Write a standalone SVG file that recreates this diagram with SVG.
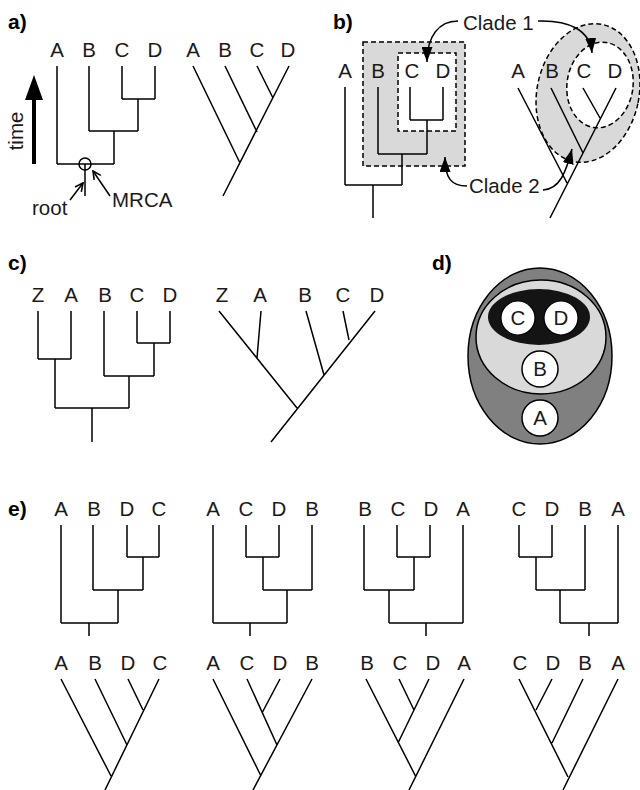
<svg xmlns="http://www.w3.org/2000/svg" width="640" height="790" viewBox="0 0 640 790">
<defs>
<style>
.ln{stroke:#000;stroke-width:1.5;fill:none;stroke-linecap:butt}
.t{font-family:"Liberation Sans",Arial,sans-serif;font-size:20.5px;fill:#1a1a1a;text-anchor:middle}
.ts{font-family:"Liberation Sans",Arial,sans-serif;font-size:20.5px;fill:#1a1a1a}
.pl{font-family:"Liberation Sans",Arial,sans-serif;font-size:21px;font-weight:bold;fill:#000}
.dash{stroke:#000;stroke-width:1.5;stroke-dasharray:5 3}
</style>
<marker id="open" viewBox="0 0 10 10" refX="9" refY="5" markerWidth="10" markerHeight="10" markerUnits="userSpaceOnUse" orient="auto">
<path d="M1,1 L9,5 L1,9" fill="none" stroke="#000" stroke-width="1.6"/>
</marker>
<marker id="fill" viewBox="0 0 15 11" refX="15" refY="5.5" markerWidth="15" markerHeight="11" markerUnits="userSpaceOnUse" orient="auto">
<path d="M0,0 L15,5.5 L0,11 Z" fill="#000"/>
</marker>
</defs>
<rect width="640" height="790" fill="#fff"/>

<!-- panel labels -->
<g id="panel-labels">
<text class="pl" x="8" y="29">a)</text>
<text class="pl" x="333" y="29">b)</text>
<text class="pl" x="8" y="270">c)</text>
<text class="pl" x="432" y="270">d)</text>
<text class="pl" x="8" y="516">e)</text>
</g>

<!-- panel a -->
<g id="a-time">
<line x1="34" y1="98" x2="34" y2="164" stroke="#000" stroke-width="4"/>
<polygon points="34,75 25,100 43,100" fill="#000"/>
<text class="t" transform="translate(23 131) rotate(-90)">time</text>
</g>
<g id="a-tree1">
<text class="t" x="57" y="57">A</text>
<text class="t" x="89" y="57">B</text>
<text class="t" x="122" y="57">C</text>
<text class="t" x="155" y="57">D</text>
<path class="ln" d="M57 66V164M89 66V131M122 66V99M155 66V99M122 99H155M138 99V131M89 131H138M114 131V164M57 164H114M85 164V196"/>
<circle cx="85" cy="164" r="6" class="ln"/>
</g>
<g id="a-annot">
<path class="ln" d="M70 200L83 183" marker-end="url(#open)"/>
<path class="ln" d="M110 196L93 171" marker-end="url(#open)"/>
<text class="ts" x="32" y="215">root</text>
<text class="ts" x="112" y="207">MRCA</text>
</g>
<g id="a-tree2">
<text class="t" x="193" y="57">A</text>
<text class="t" x="225" y="57">B</text>
<text class="t" x="257" y="57">C</text>
<text class="t" x="288" y="57">D</text>
<path class="ln" d="M193 66L240 163M225 66L257 132M257 66L273 98M289 66L223 196"/>
</g>

<!-- panel b -->
<g id="b-clades1">
<rect x="363" y="42" width="102" height="124" fill="#d9d9d9" class="dash"/>
<rect x="398" y="53" width="58" height="78" fill="#fff" class="dash"/>
</g>
<g id="b-tree1">
<text class="t" x="345" y="78">A</text>
<text class="t" x="378" y="78">B</text>
<text class="t" x="412" y="78">C</text>
<text class="t" x="443" y="78">D</text>
<path class="ln" d="M345 87V185M378 87V154M410 87V120M443 87V120M410 120H443M427 120V154M378 154H427M402 154V185M345 185H402M373 185V218"/>
</g>
<g id="b-clades2">
<ellipse cx="588" cy="93" rx="51" ry="70" transform="rotate(12 588 93)" fill="#d9d9d9" class="dash"/>
<ellipse cx="600" cy="85" rx="33" ry="43" transform="rotate(8 600 85)" fill="#fff" class="dash"/>
</g>
<g id="b-tree2">
<text class="t" x="518" y="78">A</text>
<text class="t" x="552" y="78">B</text>
<text class="t" x="584" y="78">C</text>
<text class="t" x="615" y="78">D</text>
<path class="ln" d="M518 88L567 183M551 88L583 153M583 88L600 118M616 88L550 218"/>
</g>
<g id="b-clade1-label">
<text class="ts" x="463" y="30">Clade 1</text>
</g>
<g id="b-clade2-label">
<text class="ts" x="469" y="193">Clade 2</text>
</g>
<g id="b-connectors">
<path class="ln" d="M458 21C439 21 427 36 427 62" marker-end="url(#fill)"/>
<path class="ln" d="M538 21C569 20 590 30 592 53" marker-end="url(#fill)"/>
<path class="ln" d="M467 186C451 186 445 178 445 157" marker-end="url(#fill)"/>
<path class="ln" d="M543 190C560 189 566 172 572 149" marker-end="url(#fill)"/>
</g>

<!-- panel c -->
<g id="c-tree1">
<text class="t" x="38" y="302">Z</text>
<text class="t" x="71" y="302">A</text>
<text class="t" x="105" y="302">B</text>
<text class="t" x="137" y="302">C</text>
<text class="t" x="170" y="302">D</text>
<path class="ln" d="M38 311V359M71 311V359M38 359H71M55 359V408M104 311V376M137 311V343M170 311V343M137 343H170M154 343V376M104 376H154M129 376V408M55 408H129M92 408V442"/>
</g>
<g id="c-tree2">
<text class="t" x="222" y="302">Z</text>
<text class="t" x="260" y="302">A</text>
<text class="t" x="305" y="302">B</text>
<text class="t" x="343" y="302">C</text>
<text class="t" x="377" y="302">D</text>
<path class="ln" d="M219 311L297 408M261 311L257 358M306 311L324 375M343 311L349 340M375 311L271 442"/>
</g>

<!-- panel d -->
<g id="d-nested">
<ellipse cx="540" cy="356" rx="72" ry="88" fill="#808080" stroke="#000" stroke-width="1.5"/>
<ellipse cx="541" cy="337" rx="65" ry="57" fill="#d9d9d9" stroke="#000" stroke-width="1.5"/>
<ellipse cx="539" cy="317" rx="51" ry="28" fill="#141414"/>
<g id="d-C"><circle cx="518" cy="318" r="17" fill="#fff" stroke="#000" stroke-width="1.2"/><text class="t" x="518" y="325">C</text></g>
<g id="d-D"><circle cx="561" cy="318" r="17" fill="#fff" stroke="#000" stroke-width="1.2"/><text class="t" x="561" y="325">D</text></g>
<g id="d-B"><circle cx="540" cy="369" r="18" fill="#fff" stroke="#000" stroke-width="1.5"/><text class="t" x="540" y="376">B</text></g>
<g id="d-A"><circle cx="540" cy="418" r="18" fill="#fff" stroke="#000" stroke-width="1.5"/><text class="t" x="540" y="425">A</text></g>
</g>

<!-- panel e top -->
<g id="e-tree1">
<text class="t" x="61" y="516">A</text><text class="t" x="94" y="516">B</text><text class="t" x="127" y="516">D</text><text class="t" x="159" y="516">C</text>
<path class="ln" d="M61 525V623M93 525V590M127 525V557M159 525V557M127 557H159M143 557V590M93 590H143M118 590V623M61 623H118M89 623V636"/>
</g>
<g id="e-tree2">
<text class="t" x="213" y="516">A</text><text class="t" x="246" y="516">C</text><text class="t" x="279" y="516">D</text><text class="t" x="312" y="516">B</text>
<path class="ln" d="M213 525V623M246 525V557M279 525V557M246 557H279M263 557V590M312 525V590M263 590H312M287 590V623M213 623H287M250 623V636"/>
</g>
<g id="e-tree3">
<text class="t" x="365" y="516">B</text><text class="t" x="398" y="516">C</text><text class="t" x="431" y="516">D</text><text class="t" x="463" y="516">A</text>
<path class="ln" d="M364 525V590M397 525V557M430 525V557M397 557H430M414 557V590M364 590H414M389 590V623M463 525V623M389 623H463M426 623V636"/>
</g>
<g id="e-tree4">
<text class="t" x="519" y="516">C</text><text class="t" x="552" y="516">D</text><text class="t" x="585" y="516">B</text><text class="t" x="618" y="516">A</text>
<path class="ln" d="M519 525V557M552 525V557M519 557H552M536 557V590M585 525V590M536 590H585M560 590V623M618 525V623M560 623H618M589 623V636"/>
</g>

<!-- panel e bottom -->
<g id="e-tree5">
<text class="t" x="61" y="670">A</text><text class="t" x="95" y="670">B</text><text class="t" x="128" y="670">D</text><text class="t" x="160" y="670">C</text>
<path class="ln" d="M61 679L111 776M95 679L127 745M128 679L143 710M159 679L105 790"/>
</g>
<g id="e-tree6">
<text class="t" x="213" y="670">A</text><text class="t" x="247" y="670">C</text><text class="t" x="280" y="670">D</text><text class="t" x="312" y="670">B</text>
<path class="ln" d="M213 679L261 776M247 679L277 745M280 679L262 713M312 679L253 790"/>
</g>
<g id="e-tree7">
<text class="t" x="367" y="670">B</text><text class="t" x="400" y="670">C</text><text class="t" x="433" y="670">D</text><text class="t" x="464" y="670">A</text>
<path class="ln" d="M366 679L416 777M399 679L414 710M429 679L398 743M464 679L409 790"/>
</g>
<g id="e-tree8">
<text class="t" x="520" y="670">C</text><text class="t" x="553" y="670">D</text><text class="t" x="585" y="670">B</text><text class="t" x="618" y="670">A</text>
<path class="ln" d="M519 679L568 777M552 679L536 710M583 679L552 743M618 679L563 790"/>
</g>
</svg>
